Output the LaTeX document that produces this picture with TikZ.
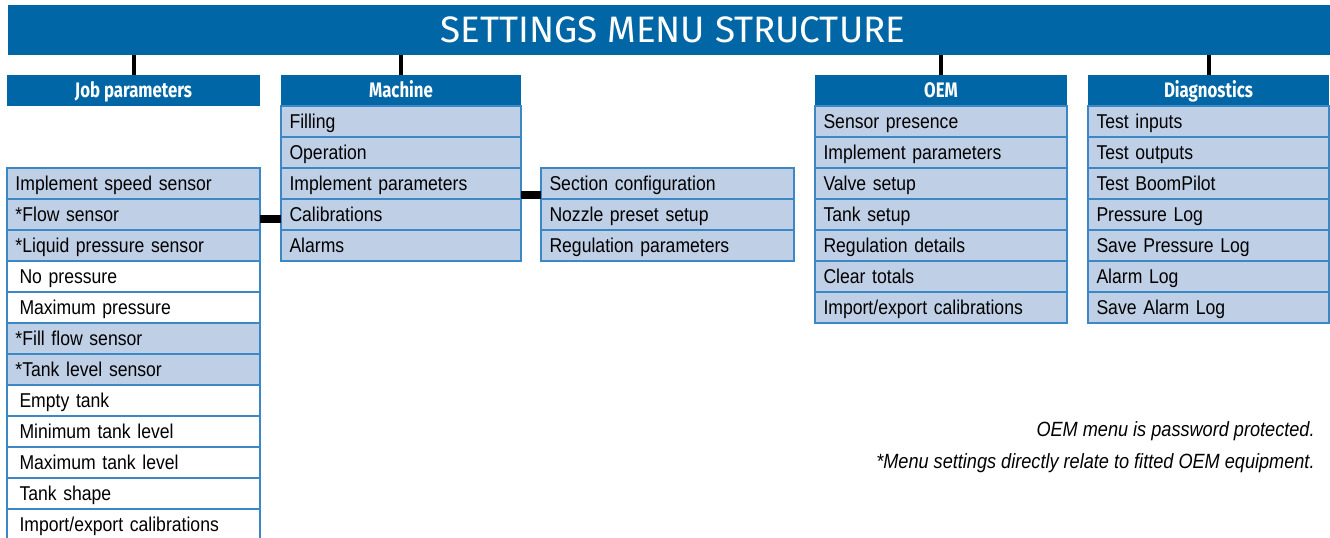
\documentclass[tikz,border=0pt]{standalone}
\usepackage{fontspec}
\setmainfont[FakeStretch=0.88]{Liberation Sans}
\newfontfamily\headfont[FakeStretch=0.8]{Fira Sans}
\newfontfamily\titlefont{Fira Sans}
\usetikzlibrary{positioning}
\definecolor{SMBlue}{RGB}{0,102,166}
\definecolor{SMLight}{RGB}{191,207,230}
\definecolor{SMLine}{RGB}{60,135,198}

\begin{document}
\begin{tikzpicture}[
node distance=0pt,
bar/.style={fill=SMBlue,text=white,inner sep=0pt,outer sep=0pt},
head/.style={bar,minimum height=15.5pt,text height=7.3pt,text depth=0pt,
font=\headfont\bfseries\fontsize{10.5}{12}\selectfont},
item/.style={
draw=SMLine,fill=SMLight,line width=0.7pt,minimum height=15.5pt,
text height=7.2pt,text depth=0pt,
inner xsep=4.25pt,inner ysep=0pt,outer sep=0pt,align=left,
font=\fontsize{10}{12}\selectfont
},
plain/.style={item,fill=white,execute at begin node={\hspace*{2pt}}},
jcol/.style={text width=118pt},
mcol/.style={text width=111.5pt},
ocol/.style={text width=117.5pt},
dcol/.style={text width=112pt},
stem/.style={draw=black,line width=2pt},
link/.style={draw=black,line width=4pt},
note/.style={anchor=east,inner sep=0pt,font=\itshape\fontsize{10.3}{12}\selectfont}
]
\useasboundingbox (0,0) rectangle (665pt,-268.5pt);

\node[bar,minimum width=661pt,minimum height=25pt,text height=12.7pt,text depth=0pt,
  font=\titlefont\fontsize{18.4}{20}\selectfont]
  (title) at (334.5pt,-15pt) {\hspace*{4pt}SETTINGS MENU STRUCTURE};

% menu headers
\node[head,minimum width=126.5pt] (j0) at (66.75pt,-45.25pt) {Job parameters};
\node[head,minimum width=120pt] (m0) at (200.5pt,-45.25pt) {Machine};
\node[head,minimum width=126pt] (o0) at (470.5pt,-45.25pt) {OEM};
\node[head,minimum width=120.5pt] (d0) at (604.25pt,-45.25pt) {Diagnostics};

% job parameters
\node[item,jcol,below=31pt of j0] (j1) {Implement speed sensor};
\node[item,jcol,below=of j1] (j2) {*Flow sensor};
\node[item,jcol,below=of j2] (j3) {*Liquid pressure sensor};
\node[plain,jcol,below=of j3] (j4) {No pressure};
\node[plain,jcol,below=of j4] (j5) {Maximum pressure};
\node[item,jcol,below=of j5] (j6) {*Fill flow sensor};
\node[item,jcol,below=of j6] (j7) {*Tank level sensor};
\node[plain,jcol,below=of j7] (j8) {Empty tank};
\node[plain,jcol,below=of j8] (j9) {Minimum tank level};
\node[plain,jcol,below=of j9] (j10) {Maximum tank level};
\node[plain,jcol,below=of j10] (j11) {Tank shape};
\node[plain,jcol,below=of j11] (j12) {Import/export calibrations};

% machine
\node[item,mcol,below=of m0] (m1) {Filling};
\node[item,mcol,below=of m1] (m2) {Operation};
\node[item,mcol,below=of m2] (m3) {Implement parameters};
\node[item,mcol,below=of m3] (m4) {Calibrations};
\node[item,mcol,below=of m4] (m5) {Alarms};

\node[item,jcol,right=10pt of m3] (s1) {Section configuration};
\node[item,jcol,below=of s1] (s2) {Nozzle preset setup};
\node[item,jcol,below=of s2] (s3) {Regulation parameters};

% OEM
\node[item,ocol,below=of o0] (o1) {Sensor presence};
\node[item,ocol,below=of o1] (o2) {Implement parameters};
\node[item,ocol,below=of o2] (o3) {Valve setup};
\node[item,ocol,below=of o3] (o4) {Tank setup};
\node[item,ocol,below=of o4] (o5) {Regulation details};
\node[item,ocol,below=of o5] (o6) {Clear totals};
\node[item,ocol,below=of o6] (o7) {Import/export calibrations};

% diagnostics
\node[item,dcol,below=of d0] (d1) {Test inputs};
\node[item,dcol,below=of d1] (d2) {Test outputs};
\node[item,dcol,below=of d2] (d3) {Test BoomPilot};
\node[item,dcol,below=of d3] (d4) {Pressure Log};
\node[item,dcol,below=of d4] (d5) {Save Pressure Log};
\node[item,dcol,below=of d5] (d6) {Alarm Log};
\node[item,dcol,below=of d6] (d7) {Save Alarm Log};

\draw[stem] (j0.north) -- (j0.north |- title.south);
\draw[stem] (m0.north) -- (m0.north |- title.south);
\draw[stem] (o0.north) -- (o0.north |- title.south);
\draw[stem] (d0.north) -- (d0.north |- title.south);

\draw[link] ([yshift=-2pt]j2.east) -- ([yshift=-2pt]m4.west);
\draw[link] ([yshift=-5.75pt]m3.east) -- ([yshift=-5.75pt]s1.west);

\node[note] (n1) at (657.5pt,-215.5pt) {OEM menu is password protected.};
\node[note,below=6pt of n1.south east,anchor=north east] (n2) {*Menu settings directly relate to fitted OEM equipment.};

\end{tikzpicture}
\end{document}
